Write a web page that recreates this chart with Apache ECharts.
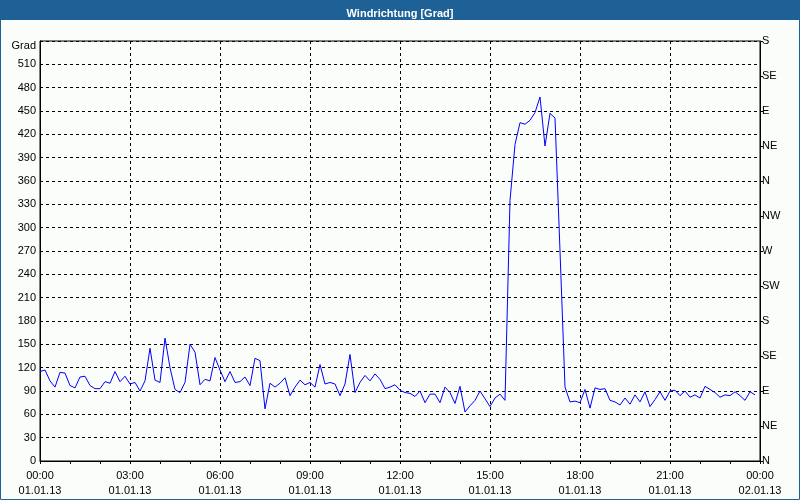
<!DOCTYPE html>
<html>
<head>
<meta charset="utf-8">
<script src="https://cdn.jsdelivr.net/npm/echarts@6/dist/echarts.min.js"></script>
<style>html,body{margin:0;padding:0;background:#fbfdfb}#c{width:800px;height:500px}</style>
</head>
<body>
<div id="c"></div>
<script>
// 10-minute samples of wind direction in degrees, 01.01.13 00:00 .. 23:50
const stepHours = 1 / 6;
const windNight = [115,117,103,95,114,113,97,94,108,109,97,93,93,102,100,115,102,109,99,101,90,103,145,104,101,158,120,92,88,101,150,140,98,105,103,133,117,102,115,101,102,108,97,132,129,67,100,95,100];
const windDay = [107,84,95,104,98,101,95,124,99,101,99,84,99,137,88,101,110,103,112,105,93,95,98,91,88,87,83,90,75,86,86,75,95,88,74,96,63,71,78,90,80,70,81,86,78];
const windShift = [335,407,435,433,438,448,468,405,447,441,270,95];
const windEvening = [76,77,75,92,68,94,92,93,78,76,72,81,73,85,76,89,70,79,89,78,90,91,84,90,82,85,81,96,92,88,82,85,84,89,84,78,89,85];
const windDir = windNight.concat(windDay, windShift, windEvening);

const compassLabels = ['N','NE','E','SE','S','SW','W','NW','N','NE','E','SE','S'];
const dayLabels = ['01.01.13','02.01.13'];
const titleText = 'Windrichtung [Grad]';
const yUnit = 'Grad';

const seriesData = windDir.map((v, i) => [i * stepHours, v]);
const pad = n => (n < 10 ? '0' : '') + n;

const chart = echarts.init(document.getElementById('c'), null, {renderer: 'canvas'});
const font = 'Liberation Sans';
chart.setOption({
  animation: false,
  backgroundColor: '#fbfdfb',
  title: {
    text: titleText, left: 'center', top: 3,
    textStyle: {color: '#ffffff', fontSize: 11, fontWeight: 'bold', fontFamily: font}
  },
  graphic: [
    {type: 'rect', z: -10, shape: {x: 0, y: 0, width: 800, height: 20}, style: {fill: '#1e6196'}},
    {type: 'rect', z: -10, shape: {x: 0.5, y: 0.5, width: 799, height: 499}, style: {fill: null, stroke: '#1e6196', lineWidth: 1}}
  ],
  grid: {left: 40, top: 41, width: 720, height: 420, show: true, borderColor: '#000', borderWidth: 1, backgroundColor: 'transparent'},
  xAxis: {
    type: 'value', min: 0, max: 24, interval: 3,
    axisLine: {lineStyle: {color: '#000', width: 1}},
    axisTick: {show: true, length: 3, lineStyle: {color: '#000'}},
    minorTick: {show: true, splitNumber: 3, length: 3, lineStyle: {color: '#000'}},
    splitLine: {show: true, lineStyle: {color: '#000', type: [3, 3], width: 1}},
    axisLabel: {
      color: '#000', fontSize: 11, fontFamily: font, lineHeight: 15, margin: 7,
      formatter: v => v === 24 ? '00:00\n' + dayLabels[1] : pad(v) + ':00\n' + dayLabels[0]
    }
  },
  yAxis: [
    {
      type: 'value', min: 0, max: 540, interval: 30, position: 'left',
      name: yUnit, nameLocation: 'end', nameGap: -5,
      nameTextStyle: {color: '#000', fontSize: 11, fontFamily: font, align: 'right', verticalAlign: 'middle', padding: [0, 4, 0, 0]},
      axisLine: {show: true, lineStyle: {color: '#000'}},
      axisTick: {show: false},
      splitLine: {show: true, lineStyle: {color: '#000', type: [3, 3], width: 1}},
      axisLabel: {color: '#000', fontSize: 11, fontFamily: font, margin: 4, formatter: v => v === 540 ? '' : String(v)}
    },
    {
      type: 'value', min: 0, max: 540, interval: 45, position: 'right',
      axisLine: {show: true, lineStyle: {color: '#000'}},
      axisTick: {show: true, length: 3, lineStyle: {color: '#000'}},
      splitLine: {show: false},
      axisLabel: {color: '#000', fontSize: 11, fontFamily: font, margin: 2, padding: [3, 0, 0, 0], formatter: v => compassLabels[Math.round(v / 45)]}
    }
  ],
  series: [{
    type: 'line', data: seriesData, yAxisIndex: 0, showSymbol: false, symbol: 'none',
    lineStyle: {color: '#0000ff', width: 1}
  }]
});
</script>
</body>
</html>
